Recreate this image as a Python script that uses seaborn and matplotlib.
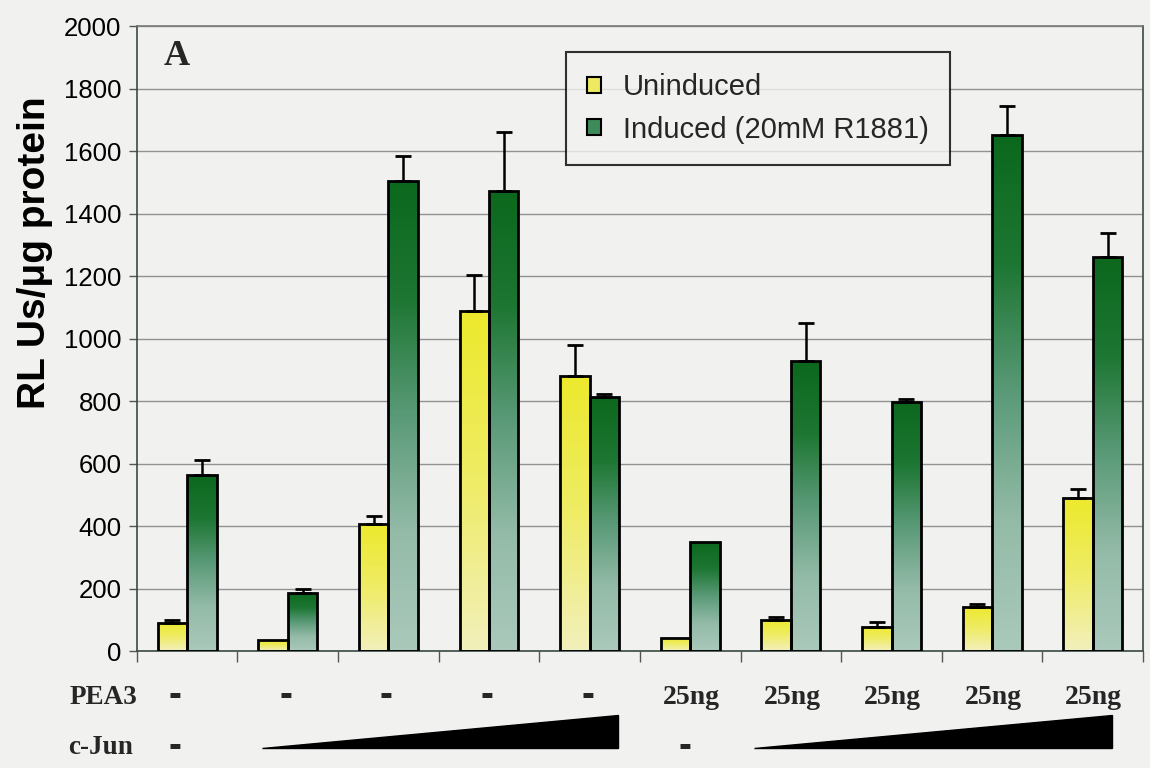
import numpy as np
import pandas as pd
import matplotlib
matplotlib.use("Agg")
import matplotlib.pyplot as plt
import seaborn as sns
from matplotlib.patches import Polygon, Rectangle
from matplotlib.colors import LinearSegmentedColormap

# ---------------- data ----------------
conditions = [f"C{i}" for i in range(1, 11)]
series_names = ["Uninduced", "Induced (20mM R1881)"]
uninduced = [92, 35, 408, 1090, 880, 44, 101, 77, 142, 491]
uninduced_err = [9, 0, 25, 114, 99, 0, 8, 17, 8, 27]
induced = [565, 185, 1504, 1472, 815, 350, 930, 799, 1652, 1261]
induced_err = [48, 15, 80, 188, 9, 0, 119, 8, 93, 76]
pea3_labels = ["-", "-", "-", "-", "-", "25ng", "25ng", "25ng", "25ng", "25ng"]
cjun_none = [0, 5]             # groups with "-" for c-Jun
cjun_ramps = [(1, 4), (6, 9)]  # increasing c-Jun ramps spanning these groups
yticks = list(range(0, 2001, 200))

df = pd.DataFrame({
    "condition": conditions * 2,
    "series": [series_names[0]] * 10 + [series_names[1]] * 10,
    "value": uninduced + induced,
})

sans = "Liberation Sans"
serif = "Liberation Serif"

sns.set_style("white")
plt.rcParams["font.family"] = ["Liberation Sans", "DejaVu Sans"]

bg = "#f1f1f0"
fig = plt.figure(figsize=(11.5, 7.68), dpi=100, facecolor=bg)
ax = fig.add_axes([0.119, 0.152, 0.875, 0.814])
ax.set_facecolor(bg)

pal = {series_names[0]: "#eeea3a", series_names[1]: "#0e6b20"}
sns.barplot(data=df, x="condition", y="value", hue="series", order=conditions,
            hue_order=series_names, palette=pal, width=0.585, dodge=True,
            edgecolor="black", linewidth=2.0, errorbar=None, ax=ax, legend=False,
            zorder=3)

ax.set_ylim(0, 2000)
ax.set_xlim(-0.5, 9.5)

# gradient fills (dark/saturated at the top of each bar, pale at its base)
cm_y = LinearSegmentedColormap.from_list("y", ["#f2f0bc", "#efec66", "#ece92c"])
cm_g = LinearSegmentedColormap.from_list("g", ["#aac9bb", "#94bba8", "#5a9a78", "#1d7632", "#0c681d"])
grad = np.linspace(0, 1, 256).reshape(-1, 1)
patches = list(ax.patches)
n = len(conditions)
for i, p in enumerate(patches[:2 * n]):
    cmap = cm_y if i < n else cm_g
    x0, w, h = p.get_x(), p.get_width(), p.get_height()
    if h <= 0:
        continue
    im = ax.imshow(grad, cmap=cmap, origin="lower", aspect="auto",
                   extent=[x0, x0 + w, 0, h], zorder=2.5, interpolation="bilinear")
    im.set_clip_path(p)
    p.set_facecolor("none")

# error bars (upper only)
errs = [uninduced_err, induced_err]
vals = [uninduced, induced]
for s in range(2):
    for j in range(n):
        p = patches[s * n + j]
        e = errs[s][j]
        if e <= 0:
            continue
        xc = p.get_x() + p.get_width() / 2
        ax.errorbar([xc], [vals[s][j]], yerr=[[0], [e]], fmt="none", ecolor="black",
                    elinewidth=1.8, capsize=5.5, capthick=2.0, zorder=4)

ax.set_xlim(-0.5, 9.5)
ax.set_ylim(0, 2000)

# grid & spines
ax.set_yticks(yticks)
ax.yaxis.grid(True, color="#929292", linewidth=1.0, zorder=0)
ax.set_axisbelow(True)
for side in ["left", "bottom", "top", "right"]:
    ax.spines[side].set_visible(True)
    ax.spines[side].set_color("#3a4a44")
    ax.spines[side].set_linewidth(1.2)
ax.spines["top"].set_color("#7a7a7a")

ax.set_xticks(np.arange(-0.5, 9.6, 1.0))
ax.set_xticklabels([])
ax.tick_params(axis="x", direction="out", length=8, width=1, color="#555555", bottom=True)
ax.tick_params(axis="y", direction="out", length=6, width=1, color="#555555", left=True,
               labelsize=18.5, pad=5, labelcolor="black")
ax.set_xlabel("")
ax.set_ylabel("RL Us/\u03bcg protein", fontsize=28, fontweight="heavy", labelpad=10,
              family=["Liberation Sans", "DejaVu Sans"], color="black")
ax.yaxis.set_label_coords(-0.083, 0.638)

# panel letter
ax.text(0.027, 0.951, "A", transform=ax.transAxes, family=serif, fontweight="bold",
        fontsize=26, va="center", ha="left")

# legend
handles = [Rectangle((0, 0), 1, 1, facecolor="#eeea60", edgecolor="black", linewidth=1.5),
           Rectangle((0, 0), 1, 1, facecolor="#3d8a5a", edgecolor="black", linewidth=1.5)]
leg = ax.legend(handles, series_names, loc="upper left", bbox_to_anchor=(0.426, 0.959),
                frameon=True, fancybox=False, edgecolor="black", facecolor=bg,
                prop={"family": sans, "size": 21}, handlelength=0.48, handleheight=0.48,
                handletextpad=0.75, borderpad=0.74, labelspacing=0.49, borderaxespad=0)
leg.get_frame().set_linewidth(1.5)
leg.set_zorder(5)

# bottom annotations
trans = ax.get_xaxis_transform()
fig.text(70 / 1150, 1 - 697 / 768, "PEA3", family=serif, fontweight="bold", fontsize=19.5,
         ha="left", va="center")
fig.text(68 / 1150, 1 - 748 / 768, "c-Jun", family=serif, fontweight="bold", fontsize=19.5,
         ha="left", va="center")
y_pea = (651 - 697) / 625.0
y_jun = (651 - 748) / 625.0
for j, lab in enumerate(pea3_labels):
    if lab == "-":
        xj = j - 0.12 if j == 0 else j - 0.02
        ax.text(xj, y_pea + 0.002, "-", transform=trans, ha="center", va="center",
                family=sans, fontweight="bold", fontsize=28, clip_on=False)
    else:
        ax.text(j + 0.01, y_pea, lab, transform=trans, ha="center", va="center",
                family=serif, fontweight="bold", fontsize=20, clip_on=False)
for j in cjun_none:
    xj = j - 0.12 if j == 0 else j - 0.05
    ax.text(xj, y_jun + 0.002, "-", transform=trans, ha="center", va="center",
            family=sans, fontweight="bold", fontsize=28, clip_on=False)
ramp_offsets = [(-0.26, 0.28), (-0.37, 0.19)]
for (a, b), (da, db) in zip(cjun_ramps, ramp_offsets):
    x_start = a + da
    x_end = b + db
    top = y_jun + 33 / 625.0
    poly = Polygon([[x_start, y_jun], [x_end, y_jun], [x_end, top]], closed=True,
                   transform=trans, facecolor="black", edgecolor="black", clip_on=False)
    ax.add_patch(poly)

fig.savefig("out.png", dpi=100, facecolor=bg)
